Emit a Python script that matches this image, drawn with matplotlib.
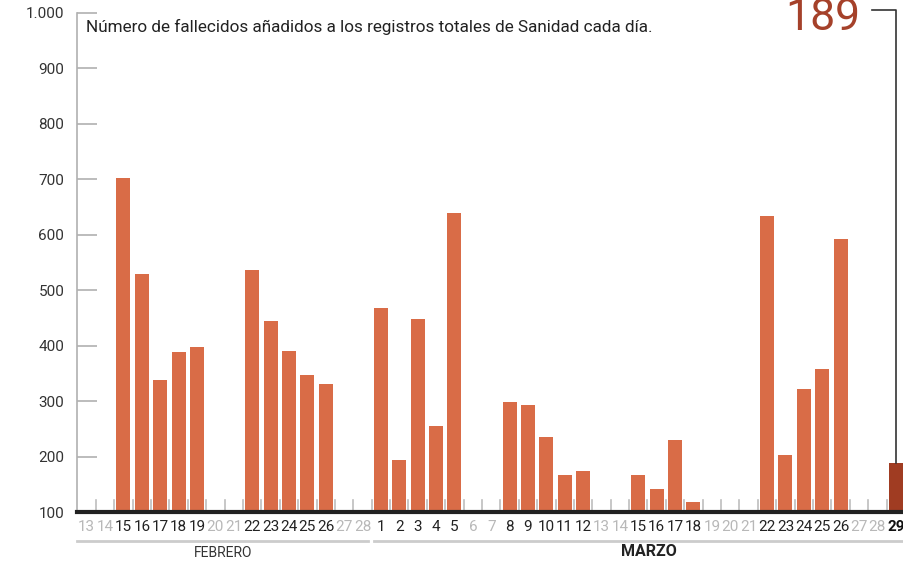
import matplotlib
matplotlib.use("Agg")
import matplotlib.pyplot as plt
import matplotlib.transforms as mtransforms

plt.rcParams['font.family'] = ['Roboto', 'DejaVu Sans']

# ---- data ----
day_labels = ["13", "14", "15", "16", "17", "18", "19", "20", "21", "22", "23", "24", "25", "26", "27", "28",
              "1", "2", "3", "4", "5", "6", "7", "8", "9", "10", "11", "12", "13", "14", "15", "16", "17",
              "18", "19", "20", "21", "22", "23", "24", "25", "26", "27", "28", "29"]
weekend = [1, 1, 0, 0, 0, 0, 0, 1, 1, 0, 0, 0, 0, 0, 1, 1,
           0, 0, 0, 0, 0, 1, 1, 0, 0, 0, 0, 0, 1, 1, 0, 0, 0,
           0, 1, 1, 1, 0, 0, 0, 0, 0, 1, 1, 0]
deaths = [None, None, 703, 530, 338, 388, 397, None, None, 536, 444, 390, 347, 331, None, None,
          468, 194, 448, 255, 639, None, None, 298, 293, 235, 167, 174, None, None, 167, 141, 230,
          118, None, None, None, 634, 203, 322, 358, 592, None, None, 189]
months = ["FEBRERO", "MARZO"]
yticks = [100, 200, 300, 400, 500, 600, 700, 800, 900, 1000]
ytick_labels = ["100", "200", "300", "400", "500", "600", "700", "800", "900", "1.000"]
title = "Número de fallecidos añadidos a los registros totales de Sanidad cada día."
highlight = "189"

BAR = "#d96c47"
BAR_LAST = "#a03c22"

fig = plt.figure(figsize=(9.04, 5.62), dpi=100)
ax = fig.add_axes([77.5 / 904, 50 / 562, 1 - 77.5 / 904 + 0.001, (512 - 13) / 562])
n = len(day_labels)
ax.set_xlim(-0.5, n - 0.5)
ax.set_ylim(100, 1000)

xs = [i for i, v in enumerate(deaths) if v is not None]
vals = [v for v in deaths if v is not None]
cols = [BAR_LAST if i == n - 1 else BAR for i in xs]
ax.bar(xs, vals, width=0.76, color=cols, zorder=3)

# small day boundary ticks
for i in range(1, n):
    ax.plot([i - 0.5, i - 0.5], [100, 122], color="#bdbdbd", lw=1.2, zorder=1, clip_on=False)

# spines
for s in ["top", "right", "bottom"]:
    ax.spines[s].set_visible(False)
ax.spines["left"].set_color("#b0b0b0")
ax.spines["left"].set_linewidth(1.2)
ax.axhline(100, color="#222222", lw=3, zorder=4, clip_on=False)

ax.set_yticks(yticks)
ax.set_yticklabels(ytick_labels, fontsize=11, color="#333333")
ax.tick_params(axis="y", direction="in", length=14.5, width=1.2, color="#b0b0b0", pad=9.5)
ax.set_xticks([])

# day labels
trans = mtransforms.blended_transform_factory(ax.transData, fig.transFigure)
for i, lab in enumerate(day_labels):
    last = i == n - 1
    color = "#111111" if last else ("#b8b8b8" if weekend[i] else "#222222")
    ax.text(i, 1 - 527 / 562, lab, transform=trans, ha="center", va="center",
            fontsize=11, color=color, fontweight="bold" if last else "normal")

# month underline
yl = 1 - 541 / 562
ax.plot([-0.5, 15.3], [yl, yl], transform=trans, color="#cccccc", lw=2, clip_on=False)
ax.plot([15.6, n - 0.5], [yl, yl], transform=trans, color="#cccccc", lw=2, clip_on=False)
ax.text(7.4, 1 - 553 / 562, months[0], transform=trans, ha="center", va="center",
        fontsize=10, color="#333333")
ax.text(30.6, 1 - 552 / 562, months[1], transform=trans, ha="center", va="center",
        fontsize=11.5, color="#222222", fontweight="bold")

# title
fig.text(86 / 904, 1 - 27 / 562, title, ha="left", va="center", fontsize=12.3, color="#222222")

# highlight
fig.text(860 / 904, 1 - 30 / 562, highlight, ha="right", va="baseline", fontsize=32,
         color="#a5412a")
ax.plot([42.7, n - 1, n - 1], [1005.5, 1005.5, deaths[-1]], color="#333333", lw=1.2,
        clip_on=False, zorder=5)

fig.savefig("out.png", dpi=100)
